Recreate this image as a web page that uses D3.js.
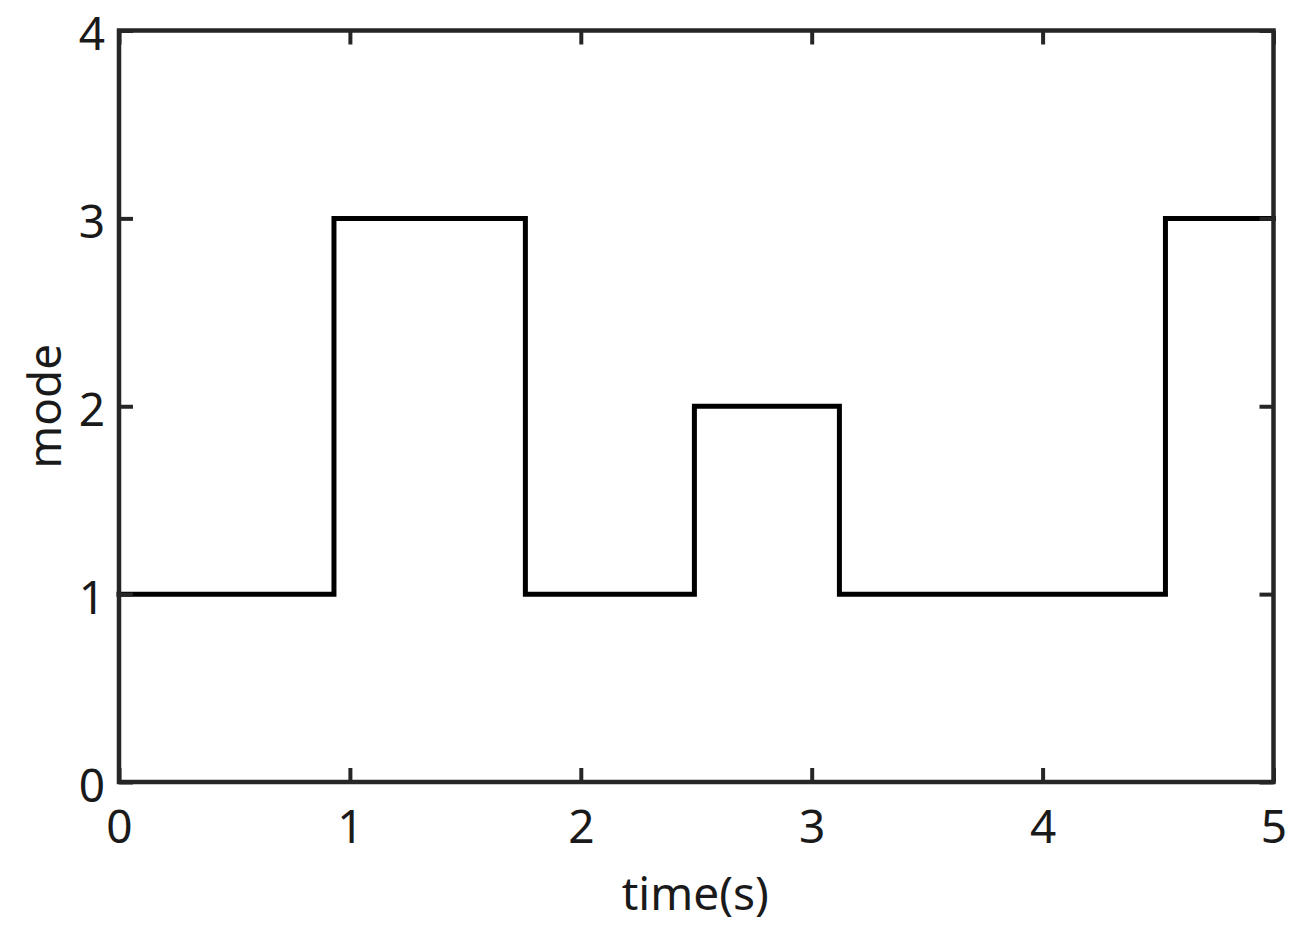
<!DOCTYPE html>
<html><head><meta charset="utf-8">
<script src="https://cdn.jsdelivr.net/npm/d3@7/dist/d3.min.js"></script>
<style>body{margin:0;background:#fff}svg{display:block}</style>
</head><body>
<script>
const times = [0, 0.931, 1.760, 2.492, 3.120, 4.532, 5];
const modes = [1, 3, 1, 2, 1, 3, 3];
const xTicks = [0, 1, 2, 3, 4, 5];
const yTicks = [0, 1, 2, 3, 4];
const xLabel = "time(s)";
const yLabel = "mode";

const W = 1304, H = 936;
const m = {left: 119, right: 1273.5, top: 30.5, bottom: 782};
const svg = d3.select("body").append("svg").attr("width", W).attr("height", H);
const x = d3.scaleLinear().domain([0, 5]).range([m.left, m.right]);
const y = d3.scaleLinear().domain([0, 4]).range([m.bottom, m.top]);
const font = "'Noto Sans', 'Open Sans', sans-serif";
const fs = "46px";
const axisColor = "#262626";

const data = times.map((t, i) => ({t, v: modes[i]}));
const line = d3.line().x(d => x(d.t)).y(d => y(d.v)).curve(d3.curveStepAfter);
svg.append("path").datum(data).attr("d", line)
  .attr("fill", "none").attr("stroke", "#000").attr("stroke-width", 5)
  .attr("stroke-linejoin", "miter").attr("stroke-linecap", "square");

const tickLen = 14;
function styleAxis(g) {
  g.select(".domain").remove();
  g.selectAll(".tick line").attr("stroke", axisColor).attr("stroke-width", 4);
  g.selectAll(".tick text").attr("fill", "#1a1a1a").style("font-family", font).style("font-size", fs);
}
svg.append("g").attr("transform", `translate(0,${m.bottom})`)
  .call(d3.axisBottom(x).tickValues(xTicks).tickFormat(d3.format("d")).tickSizeInner(-tickLen).tickSizeOuter(0).tickPadding(28))
  .call(styleAxis);
svg.append("g").attr("transform", `translate(0,${m.top})`)
  .call(d3.axisTop(x).tickValues(xTicks).tickFormat("").tickSizeInner(-tickLen).tickSizeOuter(0))
  .call(styleAxis);
svg.append("g").attr("transform", `translate(${m.left},0)`)
  .call(d3.axisLeft(y).tickValues(yTicks).tickFormat(d3.format("d")).tickSizeInner(-tickLen).tickSizeOuter(0).tickPadding(14))
  .call(styleAxis)
  .call(g => g.selectAll(".tick text").attr("dy", "19px"));
svg.append("g").attr("transform", `translate(${m.right},0)`)
  .call(d3.axisRight(y).tickValues(yTicks).tickFormat("").tickSizeInner(-tickLen).tickSizeOuter(0))
  .call(styleAxis);

svg.append("rect").attr("x", m.left).attr("y", m.top)
  .attr("width", m.right - m.left).attr("height", m.bottom - m.top)
  .attr("fill", "none").attr("stroke", axisColor).attr("stroke-width", 4.5);

svg.append("text").attr("x", (m.left + m.right) / 2 - 1).attr("y", 910)
  .attr("text-anchor", "middle").attr("fill", "#1a1a1a")
  .style("font-family", font).style("font-size", fs).text(xLabel);
svg.append("text").attr("transform", `translate(61,${(m.top + m.bottom) / 2}) rotate(-90)`)
  .attr("text-anchor", "middle").attr("fill", "#1a1a1a")
  .style("font-family", font).style("font-size", fs).text(yLabel);
</script>
</body></html>
